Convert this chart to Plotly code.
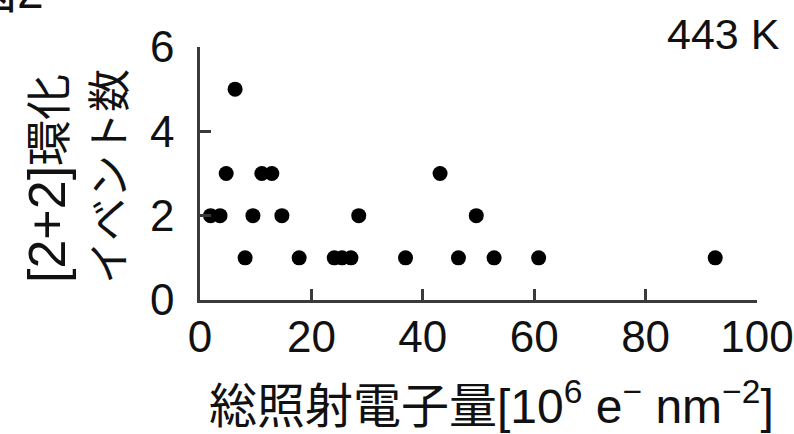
import plotly.graph_objects as go

# Data (x: total electron dose [10^6 e- nm^-2], y: event count)
dose = [1.9, 3.6, 9.5, 14.7, 28.5, 49.6,
        4.7, 11.1, 12.9, 43.1,
        6.3,
        8.1, 17.8, 24.1, 25.5, 27.1, 36.9, 46.4, 52.8, 60.8, 92.5]
events = [2, 2, 2, 2, 2, 2,
          3, 3, 3, 3,
          5,
          1, 1, 1, 1, 1, 1, 1, 1, 1, 1]

x_ticks = [0, 20, 40, 60, 80, 100]
y_ticks = [0, 2, 4, 6]

LAT = "Liberation Sans, Arial, Noto Sans CJK JP"
CJK = "Liberation Sans, Noto Sans CJK JP"
AX = "#3a3a3a"
TXT = "#111111"

L, R, T, B = 200, 37, 47, 134
W, H = 794, 434
PW, PH = W - L - R, H - T - B


def px(xpix):
    return (xpix - L) / PW


def py(ypix):
    return (H - B - ypix) / PH


fig = go.Figure()
fig.add_trace(go.Scatter(
    x=dose, y=events, mode="markers",
    marker=dict(size=15, color="black", line=dict(width=0)),
    cliponaxis=False, showlegend=False,
))

fig.update_layout(
    width=W, height=H,
    margin=dict(l=L, r=R, t=T, b=B, pad=0),
    paper_bgcolor="white", plot_bgcolor="white",
    font=dict(family=LAT, color=TXT, size=44),
)
fig.update_xaxes(
    range=[0, 100], tickvals=x_ticks, ticktext=[str(v) for v in x_ticks],
    showline=True, linecolor=AX, linewidth=2.5, mirror=False,
    ticks="inside", ticklen=11, tickwidth=2.5, tickcolor=AX,
    showgrid=False, zeroline=False, automargin=False,
    tickfont=dict(family=LAT, size=44, color=TXT),
    ticklabelstandoff=-4,
)
fig.update_yaxes(
    range=[0, 6], tickvals=y_ticks, ticktext=[str(v) for v in y_ticks],
    showline=True, linecolor=AX, linewidth=2.5, mirror=False,
    ticks="inside", ticklen=11, tickwidth=2.5, tickcolor=AX,
    showgrid=False, zeroline=False, automargin=False,
    tickfont=dict(family=LAT, size=44, color=TXT),
    ticklabelstandoff=14,
)

ann = []
# X-axis title
ann.append(dict(
    text="総照射電子量[10<sup>6</sup> e<sup>−</sup> nm<sup>−2</sup>]",
    xref="paper", yref="paper", x=px(491), y=py(403),
    xanchor="center", yanchor="middle", showarrow=False,
    font=dict(family=CJK, size=48, color=TXT),
))
# Y-axis title (two rotated lines)
ann.append(dict(
    text="<span style='font-size:52px'>[2+2]</span>環化",
    xref="paper", yref="paper", x=px(47), y=py(179),
    xanchor="center", yanchor="middle", textangle=-90, showarrow=False,
    font=dict(family=CJK, size=46, color=TXT),
))
ann.append(dict(
    text="イベント数",
    xref="paper", yref="paper", x=px(110), y=py(177),
    xanchor="center", yanchor="middle", textangle=-90, showarrow=False,
    font=dict(family=CJK, size=43, color=TXT),
))
# Temperature label
ann.append(dict(
    text="443 K",
    xref="paper", yref="paper", x=px(782), y=py(34),
    xanchor="right", yanchor="middle", showarrow=False,
    font=dict(family=LAT, size=43, color=TXT),
))
# Clipped figure label at top-left
ann.append(dict(
    text="図2",
    xref="paper", yref="paper", x=px(-33), y=py(-8),
    xanchor="left", yanchor="middle", showarrow=False,
    font=dict(family=CJK, size=48, color=TXT),
))
fig.update_layout(annotations=ann)

fig.write_html(
    "out.html",
    config={"displayModeBar": False},
    post_script="document.body.style.margin='0';document.body.style.overflow='hidden';",
)
